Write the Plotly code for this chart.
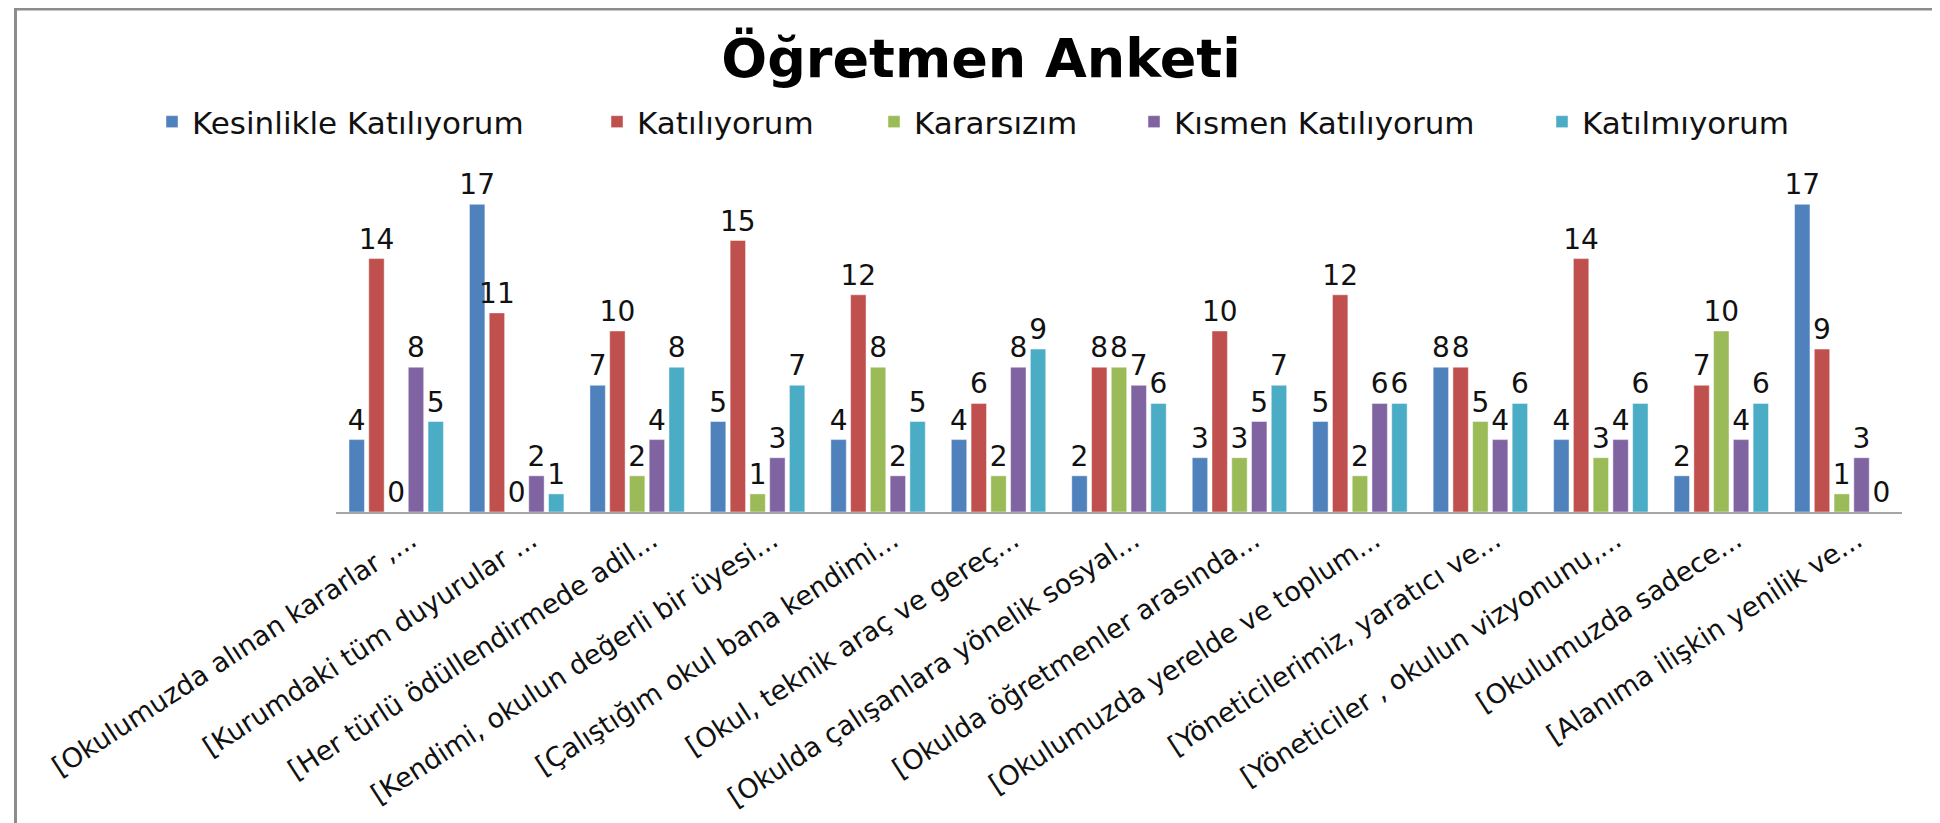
import plotly.graph_objects as go

categories = [
    "[Okulumuzda alınan kararlar ,...",
    "[Kurumdaki tüm duyurular ...",
    "[Her türlü ödüllendirmede adil...",
    "[Kendimi, okulun değerli bir üyesi...",
    "[Çalıştığım okul bana kendimi...",
    "[Okul, teknik araç ve gereç...",
    "[Okulda çalışanlara yönelik sosyal...",
    "[Okulda öğretmenler arasında...",
    "[Okulumuzda yerelde ve toplum...",
    "[Yöneticilerimiz, yaratıcı ve...",
    "[Yöneticiler , okulun vizyonunu,...",
    "[Okulumuzda sadece...",
    "[Alanıma ilişkin yenilik ve...",
]

kesinlikle = [4, 17, 7, 5, 4, 4, 2, 3, 5, 8, 4, 2, 17]
katiliyorum = [14, 11, 10, 15, 12, 6, 8, 10, 12, 8, 14, 7, 9]
kararsizim = [0, 0, 2, 1, 8, 2, 8, 3, 2, 5, 3, 10, 1]
kismen = [8, 2, 4, 3, 2, 8, 7, 5, 6, 4, 4, 4, 3]
katilmiyorum = [5, 1, 8, 7, 5, 9, 6, 7, 6, 6, 6, 6, 0]

series_names = ["Kesinlikle Katılıyorum", "Katılıyorum", "Kararsızım",
                "Kısmen Katılıyorum", "Katılmıyorum"]
series_values = [kesinlikle, katiliyorum, kararsizim, kismen, katilmiyorum]
colors = ["#4F81BD", "#C0504D", "#9BBB59", "#8064A2", "#4BACC6"]

FONT = "DejaVu Sans"
W, H = 1940, 823
L, R, T, B = 328, 46, 142, 319
pw = W - L - R
ph = H - T - B

# pixel x where each legend entry's text starts (layout only)
legend_text_x = [184, 629, 906, 1166, 1574]
legend_ids = ["legend", "legend2", "legend3", "legend4", "legend5"]

fig = go.Figure()
for i, (name, vals, col) in enumerate(zip(series_names, series_values, colors)):
    fig.add_trace(go.Bar(
        name=name, x=categories, y=vals,
        legend=legend_ids[i],
        marker=dict(color=col, line=dict(color="rgba(255,255,255,0.45)", width=1)),
        text=vals, textposition="outside", cliponaxis=False,
        constraintext="none",
        textfont=dict(family=FONT, size=28, color="#111111"),
    ))

legend_layout = {}
for i, lid in enumerate(legend_ids):
    legend_layout[lid] = dict(
        orientation="h",
        x=(legend_text_x[i] - 40 - L) / pw, xanchor="left",
        y=(H - B - 114) / ph, yanchor="middle",
        font=dict(family=FONT, size=31, color="#111111"),
        bgcolor="rgba(0,0,0,0)", borderwidth=0,
    )

fig.update_layout(
    width=W, height=H,
    margin=dict(l=L, r=R, t=T, b=B, autoexpand=False),
    paper_bgcolor="white", plot_bgcolor="white",
    barmode="group", bargap=0.18, bargroupgap=0.22,
    title=dict(text="Öğretmen Anketi", x=973 / W, xref="container", xanchor="center",
               y=1 - 50 / H, yref="container", yanchor="middle",
               font=dict(family=FONT, size=54, color="#000000", weight="bold")),
    showlegend=True,
    **legend_layout,
)
fig.update_xaxes(showline=True, linecolor="#A6A6A6", linewidth=2, ticks="",
                 tickangle=-33, tickfont=dict(family=FONT, size=27, color="#111111"),
                 showgrid=False, zeroline=False, ticklabelstandoff=0,
                 ticklabelshift=15)
fig.update_yaxes(visible=False, range=[0, 20], showgrid=False, zeroline=False)

fig.add_shape(type="rect", xref="paper", yref="paper",
              x0=(7.5 - L) / pw, x1=(W + 20 - L) / pw,
              y0=(H - B - 821) / ph, y1=(H - B - 1) / ph,
              line=dict(color="#8C8C8C", width=3), fillcolor="rgba(0,0,0,0)", layer="below")

fig.write_html("out.html")
